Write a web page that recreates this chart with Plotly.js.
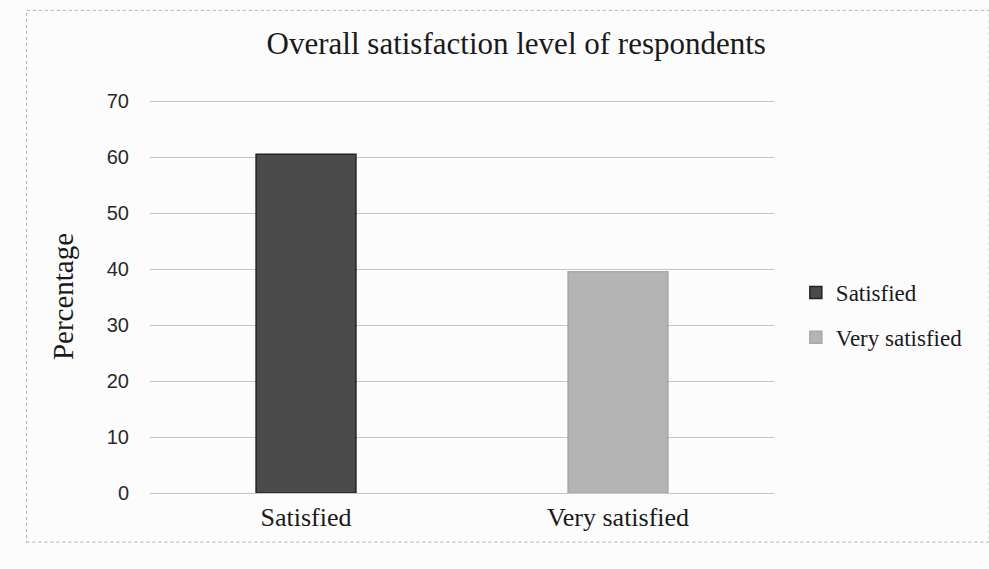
<!DOCTYPE html>
<html>
<head>
<meta charset="utf-8">
<script src="https://cdn.plot.ly/plotly-3.0.1.min.js"></script>
<style>html,body{margin:0;padding:0;background:#fcfcfc;}#chart{width:989px;height:569px;}</style>
</head>
<body>
<div id="chart"></div>
<script>
const categories = ["Satisfied", "Very satisfied"];
const seriesNames = ["Satisfied", "Very satisfied"];
const values = [60.5, 39.5];
const yTicks = [0, 10, 20, 30, 40, 50, 60, 70];

const fills = ["#4b4b4b", "#b4b4b4"];
const lines = ["#222222", "#a8a8a8"];

const serif = "Liberation Serif";

const traces = seriesNames.map((name, i) => ({
  type: "bar",
  name: name,
  legendgroup: "g" + i,
  x: [categories[i]],
  y: [values[i]],
  width: 0.32,
  marker: {color: fills[i], line: {color: lines[i], width: 1.5}},
  hoverinfo: "x+y"
}));

const layout = {
  width: 989, height: 569,
  font: {family: serif, color: "#1a1a1a", size: 23},
  paper_bgcolor: "#fcfcfc",
  plot_bgcolor: "#fcfcfc",
  margin: {l: 150, r: 215, t: 100, b: 76},
  barmode: "overlay",
  showlegend: true,
  title: {
    text: "Overall satisfaction level of respondents",
    font: {family: serif, size: 31, color: "#1a1a1a"},
    x: 0.522, xanchor: "center", y: 0.925, yanchor: "middle"
  },
  xaxis: {
    type: "category",
    categoryarray: categories,
    showgrid: false, zeroline: false, showline: false,
    ticks: "",
    tickfont: {family: serif, size: 26, color: "#1a1a1a"},
    ticklabelstandoff: 6
  },
  yaxis: {
    range: [0, 70.2],
    tickvals: yTicks,
    ticktext: yTicks.map(String),
    showgrid: true, gridcolor: "#c6c6c6", gridwidth: 1,
    zeroline: true, zerolinecolor: "#c6c6c6", zerolinewidth: 1,
    showline: false, ticks: "",
    tickfont: {family: "Liberation Sans", size: 20, color: "#2a2a2a"},
    ticklabelstandoff: 20,
    title: {
      text: "Percentage",
      font: {family: serif, size: 29, color: "#1a1a1a"},
      standoff: 24
    }
  },
  legend: {
    x: 1.035, xanchor: "left",
    y: 0.565, yanchor: "top",
    font: {family: "Times New Roman", size: 23, color: "#1a1a1a"},
    bgcolor: "rgba(0,0,0,0)",
    tracegroupgap: 12,
    itemwidth: 30
  },
  shapes: [{
    type: "rect", xref: "paper", yref: "paper",
    x0: -0.198, x1: 1.345, y0: -0.125, y1: 1.228,
    line: {color: "#b0b0b0", width: 1, dash: "dot"},
    layer: "below"
  }]
};

Plotly.newPlot("chart", traces, layout, {displayModeBar: false, staticPlot: true});
</script>
</body>
</html>
